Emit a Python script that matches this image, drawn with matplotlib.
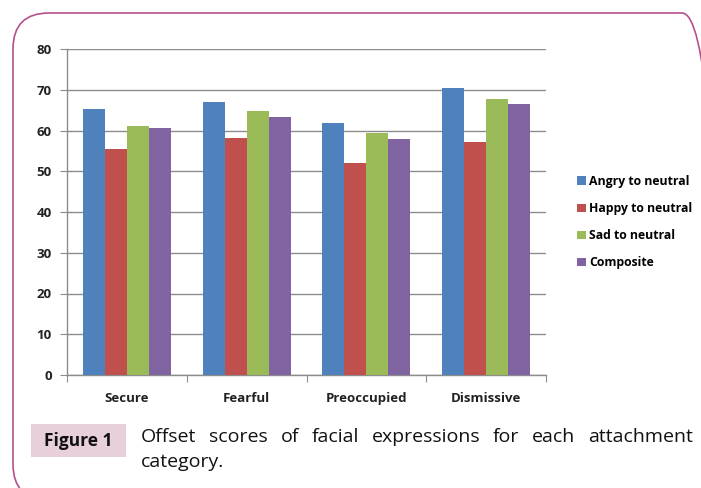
import numpy as np
import matplotlib.pyplot as plt
from matplotlib.patches import FancyBboxPatch, Rectangle
from matplotlib.transforms import IdentityTransform

categories = ['Secure', 'Fearful', 'Preoccupied', 'Dismissive']
series = ['Angry to neutral', 'Happy to neutral', 'Sad to neutral', 'Composite']
angry = [65.3, 67.1, 61.9, 70.5]
happy = [55.5, 58.2, 52.1, 57.1]
sad = [61.1, 64.9, 59.3, 67.8]
composite = [60.6, 63.4, 57.8, 66.4]
colors = ['#4F81BD', '#C0504D', '#9BBB59', '#8064A2']

W, H = 701, 488
fig = plt.figure(figsize=(W / 100, H / 100), dpi=100)

def fx(px):
    return px / W

def fy(py):
    return 1 - py / H

# rounded frame in pixel units (runs past the right and bottom edges)
frame = FancyBboxPatch((13, H - 500), 718 - 13, 500 - 13,
                       boxstyle='round,pad=0,rounding_size=36', transform=IdentityTransform(),
                       facecolor='none', edgecolor='#B5508A', linewidth=1.2, clip_on=False)
fig.patches.append(frame)

ax = fig.add_axes([fx(67), fy(375), fx(546) - fx(67), fy(49) - fy(375)])
ax.patch.set_alpha(0)
x = np.arange(len(categories))
w = 0.184
for i, (vals, name) in enumerate(zip([angry, happy, sad, composite], series)):
    ax.bar(x + (i - 1.5) * w, vals, width=w, color=colors[i], label=name, zorder=3)

ax.set_xlim(-0.5, 3.5)
ax.set_ylim(0, 80)
ax.set_yticks(range(0, 81, 10))
ax.grid(axis='y', color='#8C8C8C', linewidth=1.0, zorder=0)
ax.set_axisbelow(True)
for s in ['top', 'right']:
    ax.spines[s].set_visible(False)
for s in ['left', 'bottom']:
    ax.spines[s].set_color('#8C8C8C')
    ax.spines[s].set_linewidth(1.0)

ax.set_xticks(np.arange(-0.5, 3.6, 1.0))
ax.set_xticklabels([])
ax.set_xticks(x, minor=True)
ax.set_xticklabels(categories, minor=True, fontsize=9.5, fontweight='bold',
                   family='Open Sans', color='#222222')
ax.tick_params(axis='x', which='major', direction='out', length=5, color='#8C8C8C')
ax.tick_params(axis='x', which='minor', length=0, pad=12)
ax.tick_params(axis='y', direction='out', length=5, color='#8C8C8C', pad=6)
for lab in ax.get_yticklabels():
    lab.set_fontsize(9.5)
    lab.set_fontweight('bold')
    lab.set_family('Open Sans')
    lab.set_color('#222222')

leg = ax.legend(loc='upper left', bbox_to_anchor=(fx(566), fy(164)), bbox_transform=fig.transFigure,
                frameon=False, handlelength=0.7, handleheight=0.7, handletextpad=0.3,
                labelspacing=1.15, prop={'family': 'Open Sans', 'weight': 'bold', 'size': 8.8})

# caption
fig.patches.append(Rectangle((fx(31), fy(457)), fx(126) - fx(31), fy(424) - fy(457),
                             transform=fig.transFigure, facecolor='#E8CFDC', edgecolor='none'))
fig.text(fx(78.5), fy(441), 'Figure 1', ha='center', va='center', fontsize=12.5,
         fontweight='bold', family='Open Sans', color='#111111')

words = 'Offset scores of facial expressions for each attachment'.split()
x0, x1 = 141, 693
fig.canvas.draw()
r = fig.canvas.get_renderer()
objs = [fig.text(0, fy(437), wd, fontsize=14, family='Open Sans', color='#111111', va='center')
        for wd in words]
widths = [o.get_window_extent(r).width for o in objs]
gap = (x1 - x0 - sum(widths)) / (len(words) - 1)
pos = x0
for o, wd in zip(objs, widths):
    o.set_x(fx(pos))
    pos += wd + gap
fig.text(fx(141), fy(462), 'category.', fontsize=14, family='Open Sans', color='#111111', va='center')

fig.savefig('out.png', dpi=100)
